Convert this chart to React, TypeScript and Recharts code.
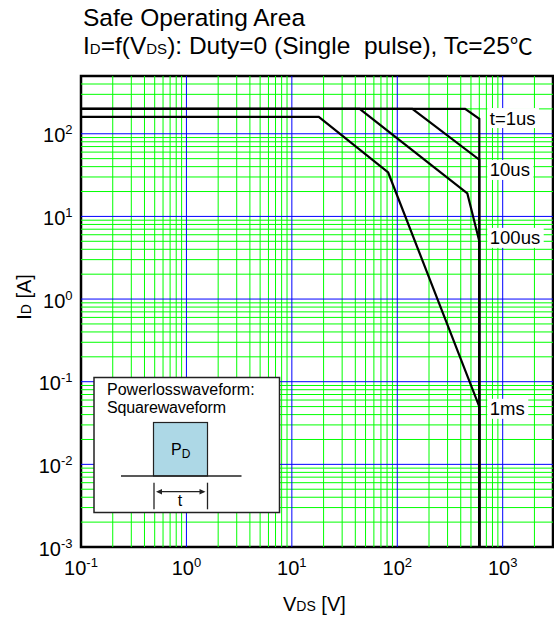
import React from 'react';
import {
  ComposedChart,
  Line,
  XAxis,
  YAxis,
  ReferenceLine,
  ReferenceArea,
  Scatter,
  Customized,
} from 'recharts';

const FONT = "'Liberation Sans', Arial, Helvetica, sans-serif";
const CJK = "'Noto Sans CJK JP', 'Noto Sans CJK SC', sans-serif";

// Safe operating area curves: VDS [V] -> ID [A]
const curve1us = [
  { x: 0.1, y: 200 },
  { x: 440, y: 200 },
  { x: 600, y: 152 },
  { x: 600, y: 0.001 },
];
const curve10us = [
  { x: 0.1, y: 200 },
  { x: 139, y: 200 },
  { x: 600, y: 48.5 },
  { x: 600, y: 0.001 },
];
const curve100us = [
  { x: 0.1, y: 200 },
  { x: 44, y: 200 },
  { x: 462, y: 19 },
  { x: 600, y: 5 },
  { x: 600, y: 0.001 },
];
const curve1ms = [
  { x: 0.1, y: 160 },
  { x: 18, y: 160 },
  { x: 82, y: 34 },
  { x: 600, y: 0.05 },
  { x: 600, y: 0.001 },
];

const curveLabels = [
  { x: 600, y: 155, text: 't=1us' },
  { x: 600, y: 36.5, text: '10us' },
  { x: 600, y: 5.5, text: '100us' },
  { x: 600, y: 0.047, text: '1ms' },
];

const xDomain = [0.1, 3000];
const yDomain = [0.001, 500];
const xTicks = [0.1, 1, 10, 100, 1000];
const yTicks = [0.001, 0.01, 0.1, 1, 10, 100];

const mantissas = [2, 3, 4, 5, 6, 7, 8, 9];
const xMajor = [1, 10, 100, 1000];
const xMinor = [0.1, 1, 10, 100, 1000]
  .flatMap((d) => mantissas.map((m) => +(m * d).toPrecision(3)))
  .filter((v) => v < 3000);
const yMajor = [0.01, 0.1, 1, 10, 100];
const yMinor = [0.001, 0.01, 0.1, 1, 10, 100]
  .flatMap((d) => mantissas.map((m) => +(m * d).toPrecision(3)))
  .filter((v) => v < 500);

const GREEN = '#00ff00';
const BLUE = '#0000ff';

const charW: Record<string, number> = {
  t: 0.278, '=': 0.584, '1': 0.556, '0': 0.556, u: 0.556, s: 0.5, m: 0.833,
};
const textWidth = (s: string, size: number) =>
  s.split('').reduce((a, c) => a + (charW[c] ?? 0.556), 0) * size;

const XTick = (props: any) => {
  const { x, y, payload } = props;
  const exp = Math.round(Math.log10(payload.value));
  return (
    <text x={x} y={y + 28} textAnchor="middle" fontFamily={FONT} fontSize={20} fill="#000">
      10
      <tspan fontSize={13} dy={-8}>
        {exp}
      </tspan>
    </text>
  );
};

const YTick = (props: any) => {
  const { x, y, payload } = props;
  const exp = Math.round(Math.log10(payload.value));
  return (
    <text x={x - 8.5} y={y + 8.5} textAnchor="end" fontFamily={FONT} fontSize={20} fill="#000">
      10
      <tspan fontSize={13} dy={-8}>
        {exp}
      </tspan>
    </text>
  );
};

const CurveLabel = (props: any) => {
  const { cx, cy, payload } = props;
  if (cx == null || cy == null) return null;
  const fs = 18.5;
  const w = textWidth(payload.text, fs) + 6;
  return (
    <g>
      <rect x={cx + 8} y={cy - 10} width={w} height={20} fill="#fff" />
      <text x={cx + 10.5} y={cy + 6.5} fontFamily={FONT} fontSize={fs} fill="#000">
        {payload.text}
      </text>
    </g>
  );
};

const Titles = () => (
  <g fontFamily={FONT} fill="#000">
    <text x={83} y={26} fontSize={24.5}>
      Safe Operating Area
    </text>
    <text x={83} y={53.5} fontSize={24.5} style={{ whiteSpace: 'pre' }}>
      I<tspan fontSize={15}>D</tspan>
      <tspan>=f(V</tspan>
      <tspan fontSize={15}>DS</tspan>
      <tspan>{'): Duty=0 (Single  pulse), Tc=25'}</tspan>
      <tspan fontFamily={CJK} fontSize={22} textLength={23} lengthAdjust="spacingAndGlyphs">
        {'\u2103'}
      </tspan>
    </text>
    <text x={283} y={611} fontSize={20}>
      V<tspan fontSize={14}>DS</tspan>
      <tspan>{' [V]'}</tspan>
    </text>
    <text x={31} y={297} fontSize={20} textAnchor="middle" transform="rotate(-90 31 297)">
      I<tspan fontSize={14}>D</tspan>
      <tspan>{' [A]'}</tspan>
    </text>
  </g>
);

const Inset = () => (
  <svg
    width={554}
    height={619}
    style={{ position: 'absolute', left: 0, top: 0, pointerEvents: 'none' }}
  >
    <g fontFamily={FONT} fill="#000">
      <rect x={94} y={377.5} width={185.5} height={135} fill="#fff" stroke="#222" strokeWidth={1.5} />
      <text x={107} y={395} fontSize={16}>
        Powerlosswaveform:
      </text>
      <text x={107} y={413} fontSize={16} letterSpacing={-0.15}>
        Squarewaveform
      </text>
      <rect x={153.5} y={422.5} width={54} height={53.5} fill="#add8e6" stroke="#222" strokeWidth={1.2} />
      <line x1={121} y1={476} x2={241.5} y2={476} stroke="#222" strokeWidth={1.5} />
      <line x1={154} y1={482.7} x2={154} y2={509.3} stroke="#222" strokeWidth={1.3} />
      <line x1={207.5} y1={482.7} x2={207.5} y2={509.3} stroke="#222" strokeWidth={1.3} />
      <line x1={158} y1={491.7} x2={203.5} y2={491.7} stroke="#222" strokeWidth={1.2} />
      <polygon points="156,491.7 162,489 162,494.4" fill="#222" />
      <polygon points="205.5,491.7 199.5,489 199.5,494.4" fill="#222" />
      <text x={180} y={506} fontSize={16} textAnchor="middle">
        t
      </text>
      <text x={171} y={455} fontSize={16}>
        P<tspan fontSize={12} dy={3}>D</tspan>
      </text>
    </g>
  </svg>
);

export default function App() {
  return (
    <div style={{ position: 'absolute', left: 0, top: 0, width: 554, height: 619, background: '#fff' }}>
      <ComposedChart width={554} height={619} margin={{ top: 76, right: 1, left: 0, bottom: 0 }}>
        <XAxis
          type="number"
          dataKey="x"
          scale="log"
          domain={xDomain}
          ticks={xTicks}
          allowDataOverflow
          axisLine={false}
          tickLine={false}
          tickSize={0}
          tickMargin={0}
          height={72}
          tick={<XTick />}
          interval={0}
        />
        <YAxis
          type="number"
          dataKey="y"
          scale="log"
          domain={yDomain}
          ticks={yTicks}
          allowDataOverflow
          axisLine={false}
          tickLine={false}
          tickSize={0}
          tickMargin={0}
          width={81}
          tick={<YTick />}
          interval={0}
        />
        {xMinor.map((v) => (
          <ReferenceLine key={'xm' + v} x={v} stroke={GREEN} strokeWidth={1} />
        ))}
        {yMinor.map((v) => (
          <ReferenceLine key={'ym' + v} y={v} stroke={GREEN} strokeWidth={1} />
        ))}
        {xMajor.map((v) => (
          <ReferenceLine key={'xM' + v} x={v} stroke={BLUE} strokeWidth={1} />
        ))}
        {yMajor.map((v) => (
          <ReferenceLine key={'yM' + v} y={v} stroke={BLUE} strokeWidth={1} />
        ))}
        <Line data={curve1us} dataKey="y" type="linear" stroke="#000" strokeWidth={2.2} dot={false} isAnimationActive={false} />
        <Line data={curve10us} dataKey="y" type="linear" stroke="#000" strokeWidth={2.2} dot={false} isAnimationActive={false} />
        <Line data={curve100us} dataKey="y" type="linear" stroke="#000" strokeWidth={2.2} dot={false} isAnimationActive={false} />
        <Line data={curve1ms} dataKey="y" type="linear" stroke="#000" strokeWidth={2.2} dot={false} isAnimationActive={false} />
        <Scatter data={curveLabels} dataKey="y" shape={(p: any) => <CurveLabel {...p} />} isAnimationActive={false} />
        <ReferenceArea
          x1={0.1}
          x2={3000}
          y1={0.001}
          y2={500}
          fill="none"
          fillOpacity={0}
          stroke="#000"
          strokeWidth={2.5}
          ifOverflow="visible"
        />
        <Customized component={<Titles />} />
      </ComposedChart>
      <Inset />
    </div>
  );
}
